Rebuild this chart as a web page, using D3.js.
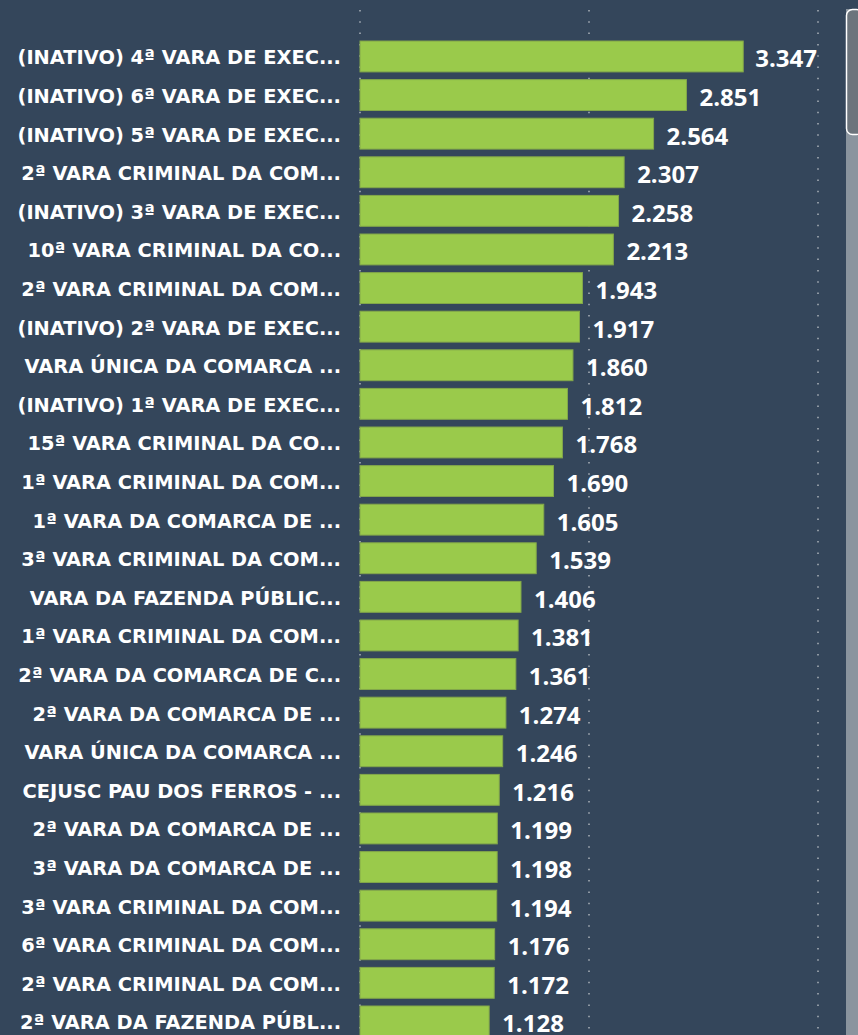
<!DOCTYPE html>
<html>
<head>
<meta charset="utf-8">
<script src="https://cdn.jsdelivr.net/npm/d3@7"></script>
<style>
    html, body { margin: 0; padding: 0; background: #34465b; overflow: hidden; }
    svg { display: block; }
</style>
</head>
<body>
<div id="chart"></div>
<script>
"use strict";

const categories = [
    "(INATIVO) 4ª VARA DE EXEC...",
    "(INATIVO) 6ª VARA DE EXEC...",
    "(INATIVO) 5ª VARA DE EXEC...",
    "2ª VARA CRIMINAL DA COM...",
    "(INATIVO) 3ª VARA DE EXEC...",
    "10ª VARA CRIMINAL DA CO...",
    "2ª VARA CRIMINAL DA COM...",
    "(INATIVO) 2ª VARA DE EXEC...",
    "VARA ÚNICA DA COMARCA ...",
    "(INATIVO) 1ª VARA DE EXEC...",
    "15ª VARA CRIMINAL DA CO...",
    "1ª VARA CRIMINAL DA COM...",
    "1ª VARA DA COMARCA DE ...",
    "3ª VARA CRIMINAL DA COM...",
    "VARA DA FAZENDA PÚBLIC...",
    "1ª VARA CRIMINAL DA COM...",
    "2ª VARA DA COMARCA DE C...",
    "2ª VARA DA COMARCA DE ...",
    "VARA ÚNICA DA COMARCA ...",
    "CEJUSC PAU DOS FERROS - ...",
    "2ª VARA DA COMARCA DE ...",
    "3ª VARA DA COMARCA DE ...",
    "3ª VARA CRIMINAL DA COM...",
    "6ª VARA CRIMINAL DA COM...",
    "2ª VARA CRIMINAL DA COM...",
    "2ª VARA DA FAZENDA PÚBL..."
];
const values = [
    3347, 2851, 2564, 2307, 2258, 2213, 1943, 1917, 1860, 1812, 1768, 1690, 1605,
    1539, 1406, 1381, 1361, 1274, 1246, 1216, 1199, 1198, 1194, 1176, 1172, 1128
];
const gridTicks = [0, 2000, 4000];

const width = 858;
const height = 1035;
const plot = { left: 360, right: 817, top: 33.3, bottom: 1044.6 };

const ptBR = d3.formatLocale({ decimal: ",", thousands: ".", grouping: [3], currency: ["R$", ""] });
const fmt = ptBR.format(",");

const data = values.map((v, i) => ({ i: i, label: categories[i], value: v }));

const xScale = d3.scaleLinear()
                 .domain([0, 4000])
                 .range([plot.left, 818]);
const yScale = d3.scaleBand()
                 .domain(d3.range(categories.length))
                 .range([plot.top, plot.bottom])
                 .padding(0.2);

const svg = d3.select("#chart").append("svg")
              .attr("width", width)
              .attr("height", height);

svg.append("rect")
   .attr("width", width)
   .attr("height", height)
   .attr("fill", "#34465b");

// dotted gridlines
svg.append("g")
   .selectAll("line").data(gridTicks).enter()
   .append("line")
   .attr("x1", d => xScale(d))
   .attr("x2", d => xScale(d))
   .attr("y1", 10)
   .attr("y2", height)
   .attr("stroke", "#aab2bb")
   .attr("stroke-width", 1.5)
   .attr("stroke-dasharray", "1.5,9.8");

const rows = svg.append("g")
                .selectAll("g").data(data).enter()
                .append("g");

rows.append("rect")
    .attr("x", xScale(0))
    .attr("y", d => yScale(d.i))
    .attr("width", d => xScale(d.value) - xScale(0))
    .attr("height", yScale.bandwidth())
    .attr("fill", "#9aca4b")
    .attr("stroke", "#83a74a")
    .attr("stroke-width", 1);

rows.append("text")
    .text(d => d.label)
    .attr("x", 341)
    .attr("y", d => yScale(d.i) + yScale.bandwidth() / 2 + 8)
    .attr("text-anchor", "end")
    .attr("fill", "#ffffff")
    .style("font-family", "'DejaVu Sans', sans-serif")
    .style("font-weight", 700)
    .style("font-size", "19.4px");

const valueText = rows.append("text")
    .text(d => fmt(d.value))
    .attr("x", d => xScale(d.value) + 13)
    .attr("y", d => yScale(d.i) + yScale.bandwidth() / 2 + 11)
    .attr("fill", "#ffffff")
    .style("font-family", "'Open Sans', 'Noto Sans', sans-serif")
    .style("font-weight", 700)
    .style("font-size", "24px");

// keep labels inside the plot area
valueText.each(function (d) {
    const w = this.getComputedTextLength();
    const x = xScale(d.value) + 13;
    if (x + w > plot.right) {
        d3.select(this).attr("x", plot.right - w);
    }
});

// scrollbar
svg.append("rect")
   .attr("x", 846)
   .attr("y", 9)
   .attr("width", 12)
   .attr("height", height - 9)
   .attr("fill", "#8a949e");
svg.append("rect")
   .attr("x", 846.5)
   .attr("y", 9.5)
   .attr("width", 16)
   .attr("height", 125)
   .attr("rx", 6)
   .attr("fill", "#6c747c")
   .attr("stroke", "#ffffff")
   .attr("stroke-width", 1.5);
</script>
</body>
</html>
